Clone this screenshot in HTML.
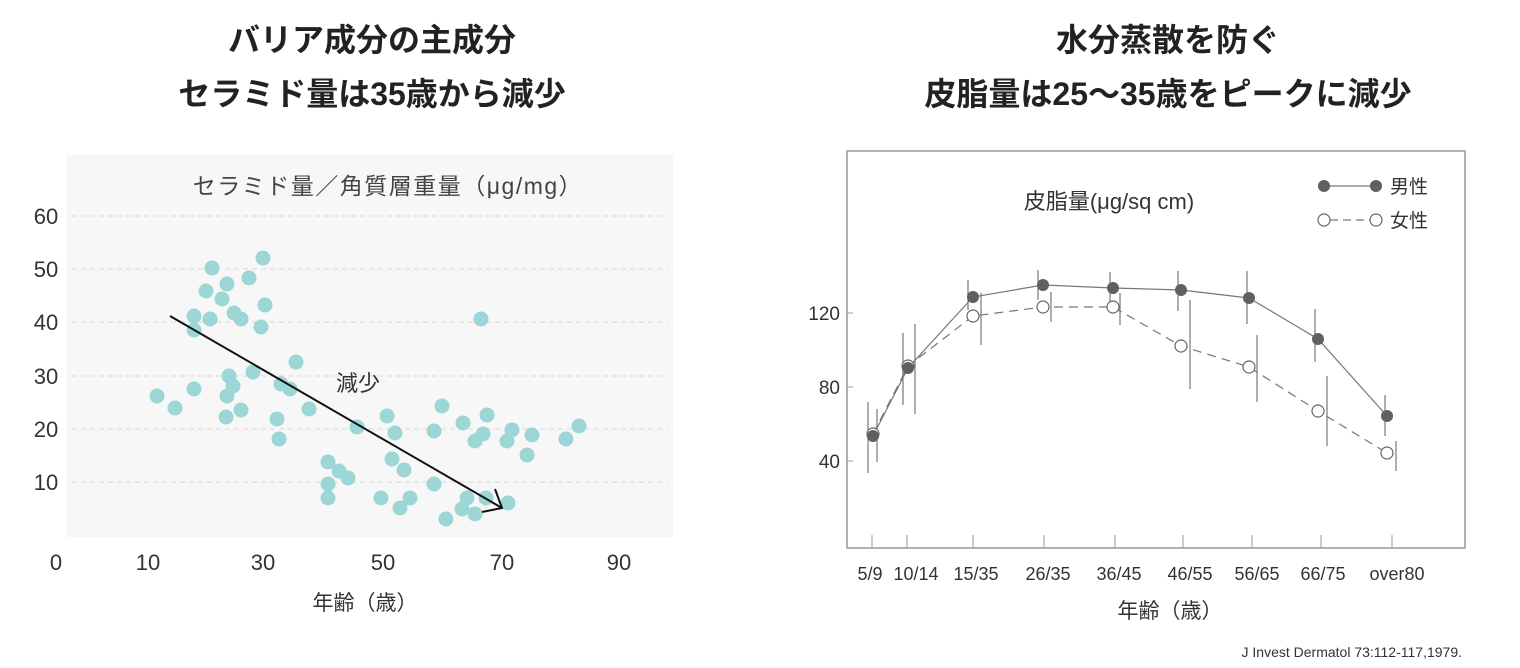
<!DOCTYPE html>
<html><head><meta charset="utf-8"><style>
html,body{margin:0;padding:0;background:#fff;}
svg{display:block;font-family:"Liberation Sans","Noto Sans CJK JP",sans-serif;}
</style></head><body>
<svg width="1520" height="668" viewBox="0 0 1520 668" xmlns="http://www.w3.org/2000/svg">
<g font-weight="bold" font-size="32" fill="#222" text-anchor="middle">
<text x="372" y="51">バリア成分の主成分</text>
<text x="372" y="105">セラミド量は35歳から減少</text>
<text x="1168" y="51">水分蒸散を防ぐ</text>
<text x="1168" y="105">皮脂量は25～35歳をピークに減少</text>
</g>
<!-- left chart -->
<rect x="66" y="155" width="607" height="382" fill="#f7f7f7"/>
<g stroke="#d8d8d8" stroke-width="1" stroke-dasharray="5,4">
<line x1="72" x2="668" y1="216" y2="216"/><line x1="72" x2="668" y1="269" y2="269"/>
<line x1="72" x2="668" y1="322" y2="322"/><line x1="72" x2="668" y1="376" y2="376"/>
<line x1="72" x2="668" y1="429" y2="429"/><line x1="72" x2="668" y1="482" y2="482"/>
</g>
<text x="388" y="194" font-size="23" letter-spacing="1.5" fill="#444" text-anchor="middle">セラミド量／角質層重量（μg/mg）</text>
<g font-size="22" fill="#333" text-anchor="middle">
<text x="46" y="224">60</text><text x="46" y="277">50</text><text x="46" y="330">40</text>
<text x="46" y="384">30</text><text x="46" y="437">20</text><text x="46" y="490">10</text>
<text x="56" y="570">0</text><text x="148" y="570">10</text><text x="263" y="570">30</text>
<text x="383" y="570">50</text><text x="502" y="570">70</text><text x="619" y="570">90</text>
</g>
<text x="365" y="610" font-size="21" fill="#333" text-anchor="middle">年齢（歳）</text>
<g fill="#9dd6d6">
<circle cx="157" cy="396" r="7.5"/><circle cx="175" cy="408" r="7.5"/><circle cx="194" cy="389" r="7.5"/>
<circle cx="194" cy="330" r="7.5"/><circle cx="194" cy="316" r="7.5"/><circle cx="206" cy="291" r="7.5"/>
<circle cx="212" cy="268" r="7.5"/><circle cx="210" cy="319" r="7.5"/><circle cx="222" cy="299" r="7.5"/>
<circle cx="227" cy="284" r="7.5"/><circle cx="234" cy="313" r="7.5"/><circle cx="241" cy="319" r="7.5"/>
<circle cx="249" cy="278" r="7.5"/><circle cx="263" cy="258" r="7.5"/><circle cx="265" cy="305" r="7.5"/>
<circle cx="261" cy="327" r="7.5"/><circle cx="229" cy="376" r="7.5"/><circle cx="233" cy="386" r="7.5"/>
<circle cx="227" cy="396" r="7.5"/><circle cx="226" cy="417" r="7.5"/><circle cx="241" cy="410" r="7.5"/>
<circle cx="253" cy="372" r="7.5"/><circle cx="281" cy="384" r="7.5"/><circle cx="290" cy="389" r="7.5"/>
<circle cx="296" cy="362" r="7.5"/><circle cx="277" cy="419" r="7.5"/><circle cx="279" cy="439" r="7.5"/>
<circle cx="309" cy="409" r="7.5"/><circle cx="357" cy="427" r="7.5"/><circle cx="328" cy="462" r="7.5"/>
<circle cx="328" cy="484" r="7.5"/><circle cx="328" cy="498" r="7.5"/><circle cx="339" cy="471" r="7.5"/>
<circle cx="348" cy="478" r="7.5"/><circle cx="381" cy="498" r="7.5"/><circle cx="387" cy="416" r="7.5"/>
<circle cx="395" cy="433" r="7.5"/><circle cx="392" cy="459" r="7.5"/><circle cx="404" cy="470" r="7.5"/>
<circle cx="410" cy="498" r="7.5"/><circle cx="400" cy="508" r="7.5"/><circle cx="442" cy="406" r="7.5"/>
<circle cx="434" cy="431" r="7.5"/><circle cx="434" cy="484" r="7.5"/><circle cx="446" cy="519" r="7.5"/>
<circle cx="462" cy="509" r="7.5"/><circle cx="467" cy="498" r="7.5"/><circle cx="475" cy="514" r="7.5"/>
<circle cx="475" cy="441" r="7.5"/><circle cx="463" cy="423" r="7.5"/><circle cx="483" cy="434" r="7.5"/>
<circle cx="481" cy="319" r="7.5"/><circle cx="487" cy="415" r="7.5"/><circle cx="486" cy="498" r="7.5"/>
<circle cx="508" cy="503" r="7.5"/><circle cx="507" cy="441" r="7.5"/><circle cx="512" cy="430" r="7.5"/>
<circle cx="527" cy="455" r="7.5"/><circle cx="532" cy="435" r="7.5"/><circle cx="566" cy="439" r="7.5"/>
<circle cx="579" cy="426" r="7.5"/>
</g>
<line x1="170" y1="316" x2="502" y2="508" stroke="#111" stroke-width="2"/>
<polyline points="482,512 502,508 495,489" fill="none" stroke="#111" stroke-width="2"/>
<text x="358" y="391" font-size="22" fill="#333" text-anchor="middle">減少</text>
<!-- right chart -->
<rect x="847" y="151" width="618" height="397" fill="#fff" stroke="#999" stroke-width="1.5"/>
<g stroke="#999" stroke-width="1">
<line x1="847" x2="853" y1="313" y2="313"/><line x1="847" x2="853" y1="387" y2="387"/><line x1="847" x2="853" y1="461" y2="461"/>
<line x1="872" x2="872" y1="535" y2="548"/><line x1="907" x2="907" y1="535" y2="548"/><line x1="973" x2="973" y1="535" y2="548"/>
<line x1="1044" x2="1044" y1="535" y2="548"/><line x1="1115" x2="1115" y1="535" y2="548"/><line x1="1183" x2="1183" y1="535" y2="548"/>
<line x1="1252" x2="1252" y1="535" y2="548"/><line x1="1321" x2="1321" y1="535" y2="548"/><line x1="1392" x2="1392" y1="535" y2="548"/>
</g>
<g font-size="19" fill="#333" text-anchor="end">
<text x="840" y="320">120</text><text x="840" y="394">80</text><text x="840" y="468">40</text>
</g>
<g font-size="18" fill="#333" text-anchor="middle">
<text x="870" y="580">5/9</text><text x="916" y="580">10/14</text><text x="976" y="580">15/35</text>
<text x="1048" y="580">26/35</text><text x="1119" y="580">36/45</text><text x="1190" y="580">46/55</text>
<text x="1257" y="580">56/65</text><text x="1323" y="580">66/75</text><text x="1397" y="580">over80</text>
</g>
<text x="1170" y="618" font-size="21" fill="#333" text-anchor="middle">年齢（歳）</text>
<text x="1109" y="209" font-size="22" fill="#333" text-anchor="middle">皮脂量(μg/sq cm)</text>
<text x="1462" y="657" font-size="14" fill="#333" text-anchor="end">J Invest Dermatol 73:112-117,1979.</text>
<!-- error bars -->
<g stroke="#777" stroke-width="1.2">
<line x1="868" x2="868" y1="402" y2="473"/><line x1="903" x2="903" y1="333" y2="405"/>
<line x1="968" x2="968" y1="280" y2="310"/><line x1="1038" x2="1038" y1="270" y2="300"/>
<line x1="1110" x2="1110" y1="272" y2="302"/><line x1="1178" x2="1178" y1="271" y2="311"/>
<line x1="1247" x2="1247" y1="271" y2="324"/><line x1="1315" x2="1315" y1="309" y2="362"/>
<line x1="1385" x2="1385" y1="395" y2="436"/>
<line x1="877" x2="877" y1="409" y2="462"/><line x1="915" x2="915" y1="324" y2="414"/>
<line x1="981" x2="981" y1="293" y2="345"/><line x1="1051" x2="1051" y1="292" y2="322"/>
<line x1="1120" x2="1120" y1="293" y2="325"/><line x1="1190" x2="1190" y1="300" y2="389"/>
<line x1="1257" x2="1257" y1="335" y2="402"/><line x1="1327" x2="1327" y1="376" y2="446"/>
<line x1="1396" x2="1396" y1="441" y2="471"/>
</g>
<polyline points="873,434 908,366 973,316 1043,307 1113,307 1181,346 1249,367 1318,411 1387,453" fill="none" stroke="#777" stroke-width="1.2" stroke-dasharray="9,6"/>
<polyline points="873,436 908,368 973,297 1043,285 1113,288 1181,290 1249,298 1318,339 1387,416" fill="none" stroke="#777" stroke-width="1.2"/>
<g fill="#fff" stroke="#666" stroke-width="1.2">
<circle cx="873" cy="434" r="6"/><circle cx="908" cy="366" r="6"/><circle cx="973" cy="316" r="6"/>
<circle cx="1043" cy="307" r="6"/><circle cx="1113" cy="307" r="6"/><circle cx="1181" cy="346" r="6"/>
<circle cx="1249" cy="367" r="6"/><circle cx="1318" cy="411" r="6"/><circle cx="1387" cy="453" r="6"/>
</g>
<g fill="#606060">
<circle cx="873" cy="436" r="6"/><circle cx="908" cy="368" r="6"/><circle cx="973" cy="297" r="6"/>
<circle cx="1043" cy="285" r="6"/><circle cx="1113" cy="288" r="6"/><circle cx="1181" cy="290" r="6"/>
<circle cx="1249" cy="298" r="6"/><circle cx="1318" cy="339" r="6"/><circle cx="1387" cy="416" r="6"/>
</g>
<!-- legend -->
<line x1="1324" x2="1376" y1="186" y2="186" stroke="#777" stroke-width="1.2"/>
<circle cx="1324" cy="186" r="6" fill="#606060"/><circle cx="1376" cy="186" r="6" fill="#606060"/>
<line x1="1330" x2="1370" y1="220" y2="220" stroke="#777" stroke-width="1.2" stroke-dasharray="8,5"/>
<circle cx="1324" cy="220" r="6" fill="#fff" stroke="#666" stroke-width="1.2"/><circle cx="1376" cy="220" r="6" fill="#fff" stroke="#666" stroke-width="1.2"/>
<text x="1390" y="193" font-size="19" fill="#333">男性</text>
<text x="1390" y="227" font-size="19" fill="#333">女性</text>
</svg>
</body></html>
